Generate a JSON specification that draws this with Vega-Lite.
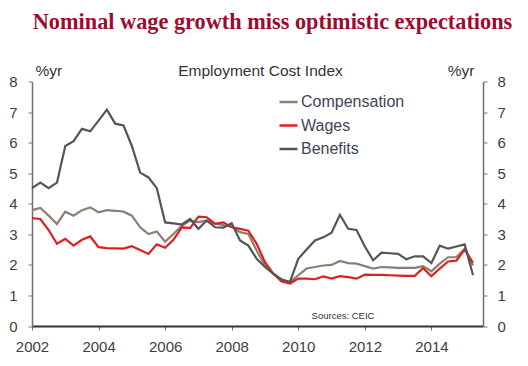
{
  "$schema": "https://vega.github.io/schema/vega-lite/v6.json",
  "width": 451,
  "height": 244.5,
  "autosize": {"type": "none"},
  "padding": {"left": 32, "top": 81.5, "right": 45, "bottom": 40},
  "background": "white",
  "title": {
    "text": "Nominal wage growth miss optimistic expectations",
    "font": "Liberation Serif",
    "fontSize": 22.3,
    "fontWeight": "bold",
    "color": "#9E0B2F",
    "anchor": "middle",
    "frame": "group",
    "dx": 15,
    "offset": 30
  },
  "config": {
    "view": {"stroke": null},
    "axis": {
      "labelFont": "Liberation Sans",
      "labelFontSize": 15,
      "labelColor": "#404040",
      "labelFlush": false,
      "titleFont": "Liberation Sans",
      "titleFontSize": 15.5,
      "titleFontWeight": "normal",
      "titleColor": "#333333",
      "grid": false,
      "tickColor": "#777777",
      "tickSize": 4,
      "domainColor": "#6E6E6E",
      "domainWidth": 1.5
    }
  },
  "data": {
    "values": [
      {"t": 2002.00, "Compensation": 3.79, "Wages": 3.53, "Benefits": 4.51},
      {"t": 2002.25, "Compensation": 3.86, "Wages": 3.50, "Benefits": 4.69},
      {"t": 2002.50, "Compensation": 3.61, "Wages": 3.14, "Benefits": 4.51},
      {"t": 2002.75, "Compensation": 3.34, "Wages": 2.69, "Benefits": 4.69},
      {"t": 2003.00, "Compensation": 3.74, "Wages": 2.85, "Benefits": 5.89},
      {"t": 2003.25, "Compensation": 3.61, "Wages": 2.63, "Benefits": 6.05},
      {"t": 2003.50, "Compensation": 3.79, "Wages": 2.82, "Benefits": 6.45},
      {"t": 2003.75, "Compensation": 3.88, "Wages": 2.93, "Benefits": 6.37},
      {"t": 2004.00, "Compensation": 3.72, "Wages": 2.58, "Benefits": 6.72},
      {"t": 2004.25, "Compensation": 3.79, "Wages": 2.55, "Benefits": 7.08},
      {"t": 2004.50, "Compensation": 3.77, "Wages": 2.54, "Benefits": 6.62},
      {"t": 2004.75, "Compensation": 3.74, "Wages": 2.53, "Benefits": 6.56},
      {"t": 2005.00, "Compensation": 3.61, "Wages": 2.61, "Benefits": 5.89},
      {"t": 2005.25, "Compensation": 3.23, "Wages": 2.49, "Benefits": 5.02},
      {"t": 2005.50, "Compensation": 3.01, "Wages": 2.36, "Benefits": 4.86},
      {"t": 2005.75, "Compensation": 3.09, "Wages": 2.67, "Benefits": 4.51},
      {"t": 2006.00, "Compensation": 2.76, "Wages": 2.56, "Benefits": 3.39},
      {"t": 2006.25, "Compensation": 3.01, "Wages": 2.82, "Benefits": 3.36},
      {"t": 2006.50, "Compensation": 3.28, "Wages": 3.23, "Benefits": 3.32},
      {"t": 2006.75, "Compensation": 3.45, "Wages": 3.20, "Benefits": 3.50},
      {"t": 2007.00, "Compensation": 3.40, "Wages": 3.58, "Benefits": 3.18},
      {"t": 2007.25, "Compensation": 3.45, "Wages": 3.56, "Benefits": 3.45},
      {"t": 2007.50, "Compensation": 3.35, "Wages": 3.34, "Benefits": 3.23},
      {"t": 2007.75, "Compensation": 3.30, "Wages": 3.39, "Benefits": 3.22},
      {"t": 2008.00, "Compensation": 3.25, "Wages": 3.23, "Benefits": 3.36},
      {"t": 2008.25, "Compensation": 3.07, "Wages": 3.18, "Benefits": 2.80},
      {"t": 2008.50, "Compensation": 3.01, "Wages": 3.12, "Benefits": 2.63},
      {"t": 2008.75, "Compensation": 2.47, "Wages": 2.69, "Benefits": 2.20},
      {"t": 2009.00, "Compensation": 1.98, "Wages": 2.09, "Benefits": 1.93},
      {"t": 2009.25, "Compensation": 1.71, "Wages": 1.71, "Benefits": 1.71},
      {"t": 2009.50, "Compensation": 1.52, "Wages": 1.46, "Benefits": 1.52},
      {"t": 2009.75, "Compensation": 1.44, "Wages": 1.39, "Benefits": 1.44},
      {"t": 2010.00, "Compensation": 1.66, "Wages": 1.55, "Benefits": 2.20},
      {"t": 2010.25, "Compensation": 1.88, "Wages": 1.55, "Benefits": 2.50},
      {"t": 2010.50, "Compensation": 1.93, "Wages": 1.53, "Benefits": 2.80},
      {"t": 2010.75, "Compensation": 1.98, "Wages": 1.62, "Benefits": 2.90},
      {"t": 2011.00, "Compensation": 2.00, "Wages": 1.55, "Benefits": 3.05},
      {"t": 2011.25, "Compensation": 2.13, "Wages": 1.63, "Benefits": 3.64},
      {"t": 2011.50, "Compensation": 2.06, "Wages": 1.60, "Benefits": 3.18},
      {"t": 2011.75, "Compensation": 2.04, "Wages": 1.55, "Benefits": 3.14},
      {"t": 2012.00, "Compensation": 1.96, "Wages": 1.68, "Benefits": 2.60},
      {"t": 2012.25, "Compensation": 1.88, "Wages": 1.67, "Benefits": 2.15},
      {"t": 2012.50, "Compensation": 1.93, "Wages": 1.67, "Benefits": 2.40},
      {"t": 2012.75, "Compensation": 1.92, "Wages": 1.66, "Benefits": 2.38},
      {"t": 2013.00, "Compensation": 1.90, "Wages": 1.65, "Benefits": 2.36},
      {"t": 2013.25, "Compensation": 1.90, "Wages": 1.64, "Benefits": 2.18},
      {"t": 2013.50, "Compensation": 1.90, "Wages": 1.64, "Benefits": 2.28},
      {"t": 2013.75, "Compensation": 1.96, "Wages": 1.90, "Benefits": 2.28},
      {"t": 2014.00, "Compensation": 1.79, "Wages": 1.63, "Benefits": 2.06},
      {"t": 2014.25, "Compensation": 2.04, "Wages": 1.88, "Benefits": 2.63},
      {"t": 2014.50, "Compensation": 2.25, "Wages": 2.11, "Benefits": 2.53},
      {"t": 2014.75, "Compensation": 2.25, "Wages": 2.14, "Benefits": 2.60},
      {"t": 2015.00, "Compensation": 2.53, "Wages": 2.50, "Benefits": 2.67},
      {"t": 2015.25, "Compensation": 1.98, "Wages": 2.07, "Benefits": 1.66}
    ]
  },
  "layer": [
    {
      "transform": [{"fold": ["Compensation", "Wages", "Benefits"], "as": ["series", "value"]}],
      "mark": {"type": "line", "strokeWidth": 2.2},
      "encoding": {
        "x": {
          "field": "t",
          "type": "quantitative",
          "scale": {"domain": [2002, 2015.55], "nice": false, "zero": false},
          "axis": {
            "values": [2002, 2004, 2006, 2008, 2010, 2012, 2014],
            "format": "d",
            "labelPadding": 9,
            "domainColor": "#333333",
            "domainWidth": 2,
            "title": "Employment Cost Index",
            "titleX": 228,
            "titleY": -251,
            "titleAlign": "center",
            "titleBaseline": "alphabetic",
            "titleColor": "#333333"
          }
        },
        "y": {
          "field": "value",
          "type": "quantitative",
          "scale": {"domain": [0, 8], "nice": false},
          "axis": {
            "orient": "left",
            "values": [0, 1, 2, 3, 4, 5, 6, 7, 8],
            "labelPadding": 11,
            "title": "%yr",
            "titleAngle": 0,
            "titleX": 3,
            "titleY": -6.5,
            "titleAlign": "left",
            "titleBaseline": "alphabetic"
          }
        },
        "color": {
          "field": "series",
          "type": "nominal",
          "scale": {
            "domain": ["Compensation", "Wages", "Benefits"],
            "range": ["#8C7E74", "#E02020", "#555555"]
          },
          "legend": {
            "orient": "none",
            "legendX": 246,
            "legendY": 10,
            "title": null,
            "symbolType": "stroke",
            "symbolSize": 324,
            "symbolStrokeWidth": 2.5,
            "labelFont": "Liberation Sans",
            "labelFontSize": 16,
            "labelColor": "#3D4555",
            "labelOffset": 2,
            "rowPadding": 4.5,
            "padding": 0
          }
        }
      }
    },
    {
      "data": {"values": [{"level": 0}]},
      "mark": {"type": "rule", "opacity": 0},
      "encoding": {
        "y": {
          "field": "level",
          "type": "quantitative",
          "axis": {
            "orient": "right",
            "values": [0, 1, 2, 3, 4, 5, 6, 7, 8],
            "labelPadding": 10,
            "title": "%yr",
            "titleAngle": 0,
            "titleX": -35.7,
            "titleY": -6.5,
            "titleAlign": "left",
            "titleBaseline": "alphabetic"
          }
        }
      }
    },
    {
      "data": {"values": [{"note": "Sources: CEIC"}]},
      "mark": {
        "type": "text",
        "font": "Liberation Sans",
        "fontSize": 9.5,
        "color": "#333333",
        "align": "left",
        "baseline": "alphabetic"
      },
      "encoding": {
        "text": {"field": "note"},
        "x": {"datum": 2010.4, "type": "quantitative"},
        "y": {"datum": 0.23, "type": "quantitative", "axis": null}
      }
    }
  ],
  "resolve": {"axis": {"y": "independent"}}
}
